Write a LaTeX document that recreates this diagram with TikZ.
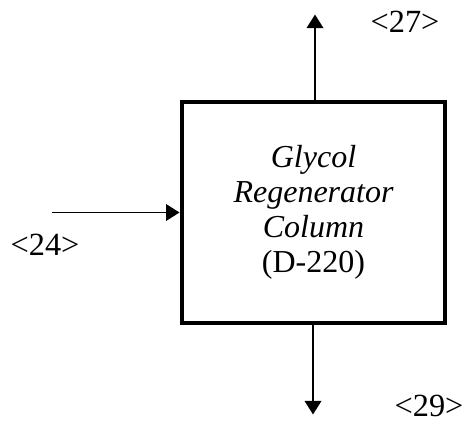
\documentclass[tikz,border=0pt]{standalone}
\usepackage{fontspec}
\setmainfont{Liberation Serif}
\usepackage{tikz}
\usetikzlibrary{arrows.meta,positioning}

\begin{document}
\begin{tikzpicture}[
  unit/.style={draw=black,line width=2.8pt,minimum width=5.26cm,minimum height=4.42cm,inner sep=0pt,align=center,font=\fontsize{18.2pt}{19.9pt}\selectfont},
  stream/.style={-{Triangle[length=0.27cm,width=0.33cm]},line width=1.1pt,draw=black},
  tag/.style={inner sep=0pt,font=\fontsize{18.4pt}{19.9pt}\selectfont}
]
\useasboundingbox (0,0) rectangle (9.28,-8.46);
\node[unit] (col) at (6.27,-4.25) {\itshape Glycol\\\itshape Regenerator\\\itshape Column\\(D-220)};
\coordinate[above=1.7cm of col.north,xshift=0.03cm] (top);
\coordinate[below=1.78cm of col.south,xshift=-0.01cm] (bot);
\coordinate[left=2.56cm of col.west,xshift=0cm] (feed);
\draw[stream] ([xshift=0.03cm]col.north) -- (top);
\draw[stream] ([xshift=-0.01cm]col.south) -- (bot);
\draw[stream] (feed) -- (col.west);
\node[tag] (s27) at (8.10,-0.44) {<27>};
\node[tag] (s29) at (8.58,-8.12) {<29>};
\node[tag] (s24) at (0.90,-4.90) {<24>};
\end{tikzpicture}
\end{document}
